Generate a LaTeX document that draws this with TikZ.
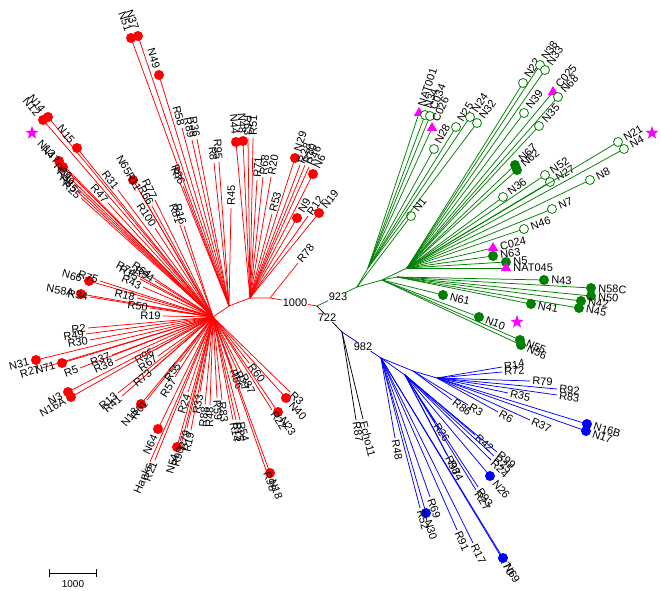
\documentclass[tikz,border=0pt]{standalone}
\usepackage{fontspec}
\setmainfont{Liberation Sans}
\usetikzlibrary{calc,shapes.geometric,arrows.meta}

\definecolor{treered}{RGB}{255,0,0}
\definecolor{treegreen}{RGB}{0,128,0}
\definecolor{treeblue}{RGB}{0,0,255}
\definecolor{treemag}{RGB}{255,0,255}

\newcounter{leafno}
\tikzset{
  leafdot/.style={circle, fill, inner sep=0pt, minimum size=10pt},
  leafring/.style={circle, draw, fill=white, inner sep=0pt, minimum size=9pt, line width=0.8pt},
  leaftri/.style={regular polygon, regular polygon sides=3, fill=treemag, draw=none, inner sep=0pt, minimum size=12pt},
  nomark/.style={coordinate},
  lbl/.style={inner sep=0pt, text=black, font=\fontsize{11}{12}\selectfont},
  boot/.style={fill=white, inner sep=0.5pt, text=black, font=\fontsize{11}{12}\selectfont},
  magstar/.style={star, star points=5, star point ratio=2.5, fill=treemag, inner sep=0pt, minimum size=14pt},
}

% leaf: parent, end point, label, marker
\newcommand\leaf[4]{%
  \stepcounter{leafno}%
  \edef\lname{lf\arabic{leafno}}%
  \coordinate (\lname) at (#2);
  \draw (#1) -- (\lname);
  \pgfmathanglebetweenpoints{\pgfpointanchor{#1}{center}}{\pgfpointanchor{\lname}{center}}%
  \let\lang\pgfmathresult
  \edef\lmark{#4}\def\nomk{nomark}%
  \ifx\lmark\nomk\def\lgap{2pt}\else\def\lgap{7pt}\fi
  \node[#4] (m\lname) at (\lname) {};
  \pgfmathtruncatemacro\lflip{cos(\lang)<0}%
  \ifnum\lflip=1
    \node[lbl, anchor=east, rotate=\lang+180] (t\lname) at ($(\lname)+(\lang:\lgap)$) {#3};
  \else
    \node[lbl, anchor=west, rotate=\lang] (t\lname) at ($(\lname)+(\lang:\lgap)$) {#3};
  \fi
}

\begin{document}
\begin{tikzpicture}[x=1pt, y=-1pt, line width=0.75pt]
  \useasboundingbox (0,0) rectangle (661,591);

  % red clade
  \begin{scope}[color=treered]
    \coordinate (H) at (213,317);
    \coordinate (C) at (229,306);
    \coordinate (D) at (250,298);
    \coordinate (E) at (270,298);
    \coordinate (Rt) at (317,306);
    \draw (H) -- (C) -- (D) -- (E) -- (Rt);

    \leaf{H}{43,120}{N12}{leafdot}
    \leaf{H}{48,117}{N14}{leafdot}
    \leaf{H}{77,148}{N15}{leafdot}
    \leaf{H}{59,161}{N13}{leafdot}
    \leaf{H}{63,167}{N47}{leafdot}
    \leaf{H}{72,180}{R29}{nomark}
    \leaf{H}{75,186}{R39}{nomark}
    \leaf{H}{78,192}{R85}{nomark}
    \leaf{H}{81,198}{R25}{nomark}
    \leaf{H}{108,203}{R47}{nomark}
    \leaf{H}{118,190}{R31}{nomark}
    \leaf{H}{133,180}{N65}{leafdot}
    \leaf{H}{140,192}{R11}{nomark}
    \leaf{H}{155,200}{R77}{nomark}
    \leaf{H}{152,206}{R66}{nomark}
    \leaf{H}{155,228}{R100}{nomark}
    \leaf{C}{180,183}{R7}{nomark}
    \leaf{C}{183,186}{R86}{nomark}
    \leaf{H}{180,225}{R81}{nomark}
    \leaf{H}{184,226}{R16}{nomark}
    \leaf{C}{131,38}{N51}{leafdot}
    \leaf{C}{138,36}{N37}{leafdot}
    \leaf{C}{159,75}{N49}{leafdot}
    \leaf{C}{182,128}{R58}{nomark}
    \leaf{C}{192,140}{R89}{nomark}
    \leaf{C}{197,139}{R36}{nomark}
    \leaf{C}{214,163}{R8}{nomark}
    \leaf{C}{219,162}{R95}{nomark}
    \leaf{C}{231,208}{R45}{nomark}
    \leaf{D}{236,142}{N44}{leafdot}
    \leaf{D}{243,141}{N48}{leafdot}
    \leaf{D}{248,138}{R63}{nomark}
    \leaf{D}{253,138}{R51}{nomark}
    \leaf{D}{257,180}{R71}{nomark}
    \leaf{D}{263,177}{R68}{nomark}
    \leaf{D}{271,177}{R20}{nomark}
    \leaf{D}{272,214}{R53}{nomark}
    \leaf{D}{295,158}{N29}{leafdot}
    \leaf{D}{300,165}{R28}{nomark}
    \leaf{D}{305,165}{R80}{nomark}
    \leaf{D}{309,167}{R46}{nomark}
    \leaf{D}{313,174}{N6}{leafdot}
    \leaf{D}{297,218}{N9}{leafdot}
    \leaf{D}{308,216}{R12}{nomark}
    \leaf{D}{319,213}{N19}{leafdot}
    \leaf{E}{298,263}{R78}{nomark}

    \leaf{H}{137,275}{R74}{nomark}
    \leaf{H}{140,279}{R15}{nomark}
    \leaf{H}{152,277}{R64}{nomark}
    \leaf{H}{155,281}{R94}{nomark}
    \leaf{H}{143,287}{R43}{nomark}
    \leaf{H}{89,281}{N66}{leafdot}
    \leaf{H}{100,281}{R75}{nomark}
    \leaf{H}{81,294}{N58A}{leafdot}
    \leaf{H}{90,297}{R34}{nomark}
    \leaf{H}{137,298}{R18}{nomark}
    \leaf{H}{150,308}{R50}{nomark}
    \leaf{H}{163,316}{R19}{nomark}
    \leaf{H}{88,328}{R2}{nomark}
    \leaf{H}{86,334}{R49}{nomark}
    \leaf{H}{90,340}{R30}{nomark}
    \leaf{H}{36,360}{N31}{leafdot}
    \leaf{H}{42,368}{R27}{nomark}
    \leaf{H}{62,363}{N71}{leafdot}
    \leaf{H}{80,368}{R5}{nomark}
    \leaf{H}{112,355}{R37}{nomark}
    \leaf{H}{115,361}{R38}{nomark}
    \leaf{H}{155,350}{R96}{nomark}
    \leaf{H}{158,356}{R67}{nomark}
    \leaf{H}{68,392}{N3}{leafdot}
    \leaf{H}{71,397}{N16A}{leafdot}
    \leaf{H}{118,393}{R13}{nomark}
    \leaf{H}{122,396}{R41}{nomark}
    \leaf{H}{152,370}{R73}{nomark}
    \leaf{H}{141,404}{N18}{leafdot}
    \leaf{H}{147,400}{R61}{nomark}
    \leaf{H}{175,377}{R57}{nomark}
    \leaf{H}{180,362}{R55}{nomark}
    \leaf{H}{188,392}{R24}{nomark}
    \leaf{H}{158,429}{N64}{leafdot}
    \leaf{H}{150,462}{Hanks}{nomark}
    \leaf{H}{155,460}{R21}{nomark}
    \leaf{H}{177,447}{N54}{leafdot}
    \leaf{H}{181,445}{R90}{nomark}
    \leaf{H}{187,428}{R79}{nomark}
    \leaf{H}{191,430}{R19}{nomark}
    \leaf{H}{200,392}{R33}{nomark}
    \leaf{H}{205,405}{R88}{nomark}
    \leaf{H}{210,405}{R48}{nomark}
    \leaf{H}{217,398}{R59}{nomark}
    \leaf{H}{222,400}{R83}{nomark}
    \leaf{H}{233,420}{R14}{nomark}
    \leaf{H}{236,420}{R15}{nomark}
    \leaf{H}{240,420}{R54}{nomark}
    \leaf{H}{232,368}{R56}{nomark}
    \leaf{H}{237,370}{R27}{nomark}
    \leaf{H}{242,373}{R87}{nomark}
    \leaf{H}{249,363}{R60}{nomark}
    \leaf{H}{278,412}{N23}{leafdot}
    \leaf{H}{272,410}{R22}{nomark}
    \leaf{H}{286,398}{N40}{leafdot}
    \leaf{H}{290,392}{R3}{nomark}
    \leaf{H}{270,473}{N18}{leafdot}
    \leaf{H}{266,470}{R98}{nomark}
  \end{scope}

  % green clade
  \begin{scope}[color=treegreen]
    \coordinate (G1) at (357,287);
    \coordinate (Ga) at (368,268);
    \coordinate (Gb) at (382,280);
    \coordinate (Gc) at (407,268);
    \coordinate (Gd) at (397,277);
    \draw (Rt) -- (G1) -- (Ga);
    \draw (G1) -- (Gb) -- (Gc);
    \draw (Gb) -- (Gd);

    \leaf{Ga}{419,113}{NAT001}{leaftri}
    \leaf{Ga}{425,115}{N34}{leafring}
    \leaf{Ga}{430,116}{C034}{leafring}
    \leaf{Ga}{432,128}{C026}{leaftri}
    \leaf{Ga}{434,149}{N28}{leafring}
    \leaf{G1}{411,216}{N1}{leafring}
    \leaf{Ga}{456,127}{N25}{leafring}
    \leaf{Ga}{470,117}{N24}{leafring}
    \leaf{Ga}{477,123}{N32}{leafring}
    \leaf{Gc}{523,83}{N22}{leafring}
    \leaf{Gc}{540,65}{N38}{leafring}
    \leaf{Gc}{545,70}{N33}{leafring}
    \leaf{Gc}{524,113}{N39}{leafring}
    \leaf{Gc}{553,92}{C025}{leaftri}
    \leaf{Gc}{558,97}{N68}{leafring}
    \leaf{Gc}{539,126}{N35}{leafring}
    \leaf{Gc}{515,165}{N67}{leafdot}
    \leaf{Gc}{517,170}{N62}{leafdot}
    \leaf{Gc}{503,197}{N36}{leafring}
    \leaf{Gc}{545,175}{N52}{leafring}
    \leaf{Gc}{550,182}{N27}{leafring}
    \leaf{Gc}{618,142}{N21}{leafring}
    \leaf{Gc}{624,149}{N4}{leafring}
    \leaf{Gc}{590,180}{N8}{leafring}
    \leaf{Gc}{552,209}{N7}{leafring}
    \leaf{Gc}{524,229}{N46}{leafring}
    \leaf{Gc}{493,248}{C024}{leaftri}
    \leaf{Gc}{493,256}{N63}{leafdot}
    \leaf{Gc}{506,262}{N5}{leafdot}
    \leaf{Gc}{506,268}{NAT045}{leaftri}
    \leaf{Gd}{544,280}{N43}{leafdot}
    \leaf{Gd}{591,288}{N58C}{leafdot}
    \leaf{Gd}{591,296}{N50}{leafdot}
    \leaf{Gd}{581,301}{N42}{leafdot}
    \leaf{Gd}{579,308}{N45}{leafdot}
    \leaf{Gd}{531,304}{N41}{leafdot}
    \leaf{Gb}{443,295}{N61}{leafdot}
    \leaf{Gb}{479,317}{N10}{leafdot}
    \leaf{Gb}{520,340}{N55}{leafdot}
    \leaf{Gb}{521,345}{N56}{leafdot}
  \end{scope}

  % black stem
  \coordinate (B0) at (342,332);
  \draw (Rt) -- (B0);
  \leaf{B0}{356,420}{R87}{nomark}
  \leaf{B0}{363,419}{Echo11}{nomark}

  % blue clade
  \begin{scope}[color=treeblue]
    \coordinate (B1) at (381,358);
    \coordinate (B3) at (413,371);
    \coordinate (B2) at (437,378);
    \coordinate (B4) at (405,375);
    \draw (B0) -- (B1) -- (B3) -- (B2);
    \draw (B1) -- (B4);

    \leaf{B2}{502,367}{R14}{nomark}
    \leaf{B2}{502,372}{R72}{nomark}
    \leaf{B2}{530,381}{R79}{nomark}
    \leaf{B2}{557,389}{R92}{nomark}
    \leaf{B2}{557,395}{R83}{nomark}
    \leaf{B2}{508,393}{R35}{nomark}
    \leaf{B2}{498,412}{R6}{nomark}
    \leaf{B2}{530,420}{R37}{nomark}
    \leaf{B2}{587,424}{N16B}{leafdot}
    \leaf{B2}{586,431}{N17}{leafdot}
    \leaf{B3}{468,405}{R3}{nomark}
    \leaf{B3}{452,400}{R86}{nomark}
    \leaf{B4}{435,422}{R26}{nomark}
    \leaf{B4}{475,435}{R42}{nomark}
    \leaf{B4}{497,452}{R99}{nomark}
    \leaf{B4}{494,456}{R25}{nomark}
    \leaf{B4}{491,460}{R24}{nomark}
    \leaf{B4}{490,476}{N26}{leafdot}
    \leaf{B4}{447,455}{R97}{nomark}
    \leaf{B4}{450,460}{R84}{nomark}
    \leaf{B4}{478,487}{R93}{nomark}
    \leaf{B4}{476,490}{R27}{nomark}
    \leaf{B1}{395,438}{R48}{nomark}
    \leaf{B1}{430,497}{R69}{nomark}
    \leaf{B1}{426,513}{N30}{leafdot}
    \leaf{B1}{420,508}{R52}{nomark}
    \leaf{B1}{457,530}{R91}{nomark}
    \leaf{B1}{473,543}{R17}{nomark}
    \leaf{B1}{500,555}{R70}{nomark}
    \leaf{B1}{503,558}{N69}{leafdot}
  \end{scope}

  % stars
  \node[magstar] (st1) at (32,133) {};
  \node[magstar] (st2) at (652,133) {};
  \node[magstar] (st3) at (517,322) {};

  % bootstrap values
  \node[boot] (bs1) at (295,303) {1000};
  \node[boot] (bs2) at (338,297) {923};
  \node[boot] (bs3) at (327,318) {722};
  \node[boot] (bs4) at (363,347) {982};

  % scale bar
  \coordinate (sb1) at (49,573);
  \coordinate (sb2) at (97,573);
  \draw[line width=0.6pt, {Bar[width=8pt]}-{Bar[width=8pt]}] (sb1) -- (sb2);
  \node[font=\fontsize{10}{12}\selectfont] (sblbl) at (73,584) {1000};
\end{tikzpicture}
\end{document}
